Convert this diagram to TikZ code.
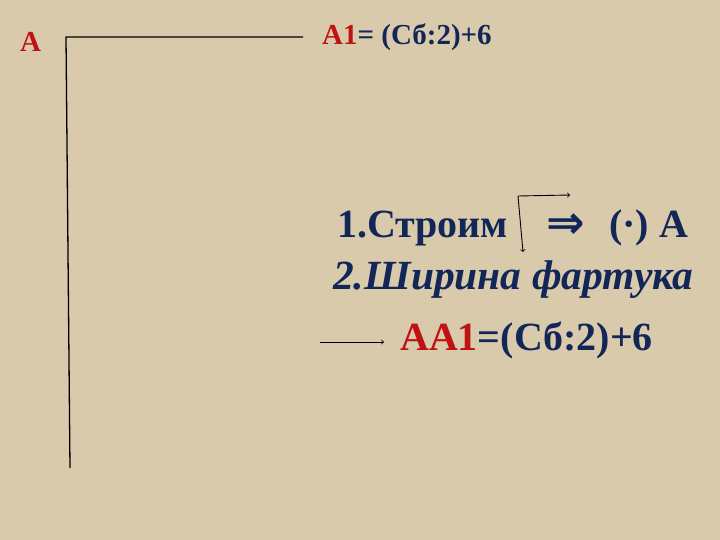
\documentclass[tikz,border=0pt]{standalone}
\usepackage{fontspec}
\setmainfont{Liberation Serif}
\newfontfamily\arrowfont{DejaVu Sans}
\usetikzlibrary{positioning}
\definecolor{bgsand}{RGB}{217,202,172}
\definecolor{inkblue}{RGB}{18,38,88}
\definecolor{inkred}{RGB}{192,18,18}
\tikzset{
    big/.style={inner sep=0pt, anchor=base west, font=\fontsize{40}{44}\selectfont\bfseries, text=inkblue},
    small/.style={inner sep=0pt, anchor=base west, font=\fontsize{29}{32}\selectfont\bfseries, text=inkblue}
}
\begin{document}
\begin{tikzpicture}[x=1pt,y=-1pt]
                    \fill [bgsand](0,0) rectangle (720,540);
                    \useasboundingbox (0,0) rectangle (720,540);
                    % big corner
                    \coordinate (corner) at (66,37);
                    \coordinate (top end) at (303,37);
                    \coordinate (bottom end) at (70,468);
                    \draw [line width=1.3pt](top end)--(corner)--(bottom end);
                    \node [small, text=inkred] (a) at (20,52) {А};
                    \node [small] (a1) at (322,45) {\textcolor{inkred}{А1}= (Сб:2)+6};
                    % steps
                    \node [big] (step one) at (337,237) {1.Строим};
                    \coordinate (mini corner) at (518,196);
                    \coordinate (mini right) at (570,195);
                    \coordinate (mini down) at (523,252);
                    \draw [->, line width=0.9pt](mini corner)--(mini right);
                    \draw [->, line width=0.9pt](mini corner)--(mini down);
                    \node [big, font=\fontsize{46}{48}\selectfont\bfseries\arrowfont] (implies) at (546,238) {⇒};
                    \node [big] (point a) at (609,237) {(·) А};
                    \node [big, font=\fontsize{41.5}{44}\selectfont\bfseries\itshape] (step two) at (333,289) {2.Ширина фартука};
                    \node [big] (width) at (400,350) {\textcolor{inkred}{АА1}=(Сб:2)+6};
                    \coordinate (arrow start) at (320,342);
                    \coordinate (arrow end) at (384,342);
                    \draw [->, line width=0.9pt](arrow start)--(arrow end);
\end{tikzpicture}
\end{document}
